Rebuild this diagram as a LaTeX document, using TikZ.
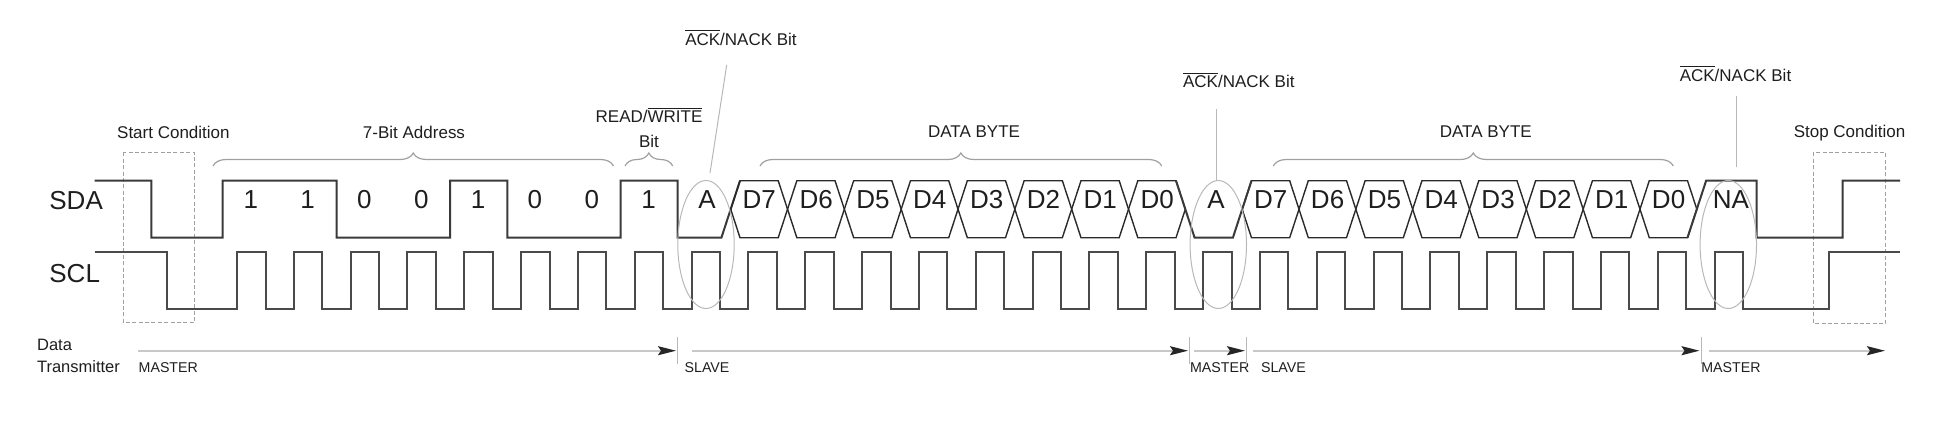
\documentclass[tikz,border=0pt]{standalone}
\usepackage{fontspec}
\setmainfont{Liberation Sans}
\usetikzlibrary{decorations.pathreplacing,arrows.meta,shapes.geometric}
\definecolor{sigc}{HTML}{3A3A3A}
\definecolor{sclc}{HTML}{4A4A4A}
\definecolor{hexc}{HTML}{2A2A2A}
\definecolor{softc}{HTML}{B8B8B8}
\definecolor{bracec}{HTML}{A0A0A0}
\definecolor{arrc}{HTML}{C8C8C8}
\definecolor{txtc}{HTML}{1E1E1E}
\newcommand{\ovl}[1]{$\overline{\mbox{#1}}$}
\tikzset{
  sig/.style={draw=sigc, line width=1pt, line join=miter},
  sclsig/.style={draw=sclc, line width=1pt, line join=miter},
  hexcell/.style={draw=hexc, line width=0.7pt, line join=miter},
  smalllbl/.style={font=\fontsize{8.5}{10}\selectfont, text=txtc, inner sep=0pt, anchor=base},
  biglbl/.style={font=\fontsize{13}{15}\selectfont, text=txtc, inner sep=0pt, anchor=base},
  rowlbl/.style={font=\fontsize{8.25}{10}\selectfont, text=txtc, inner sep=0pt, anchor=base west},
  botlbl/.style={font=\fontsize{7.1}{9}\selectfont, text=txtc, inner sep=0pt, anchor=base west},
  condbox/.style={draw=bracec, line width=0.5pt, dash pattern=on 2pt off 1.2pt},
  ackring/.style={draw=softc, line width=0.5pt},
  pointer/.style={draw=softc, line width=0.5pt},
  bracedec/.style={draw=bracec, line width=0.6pt, decorate, decoration={brace, amplitude=6.5pt}},
  flow/.style={draw=arrc, line width=1pt, -{Stealth[length=9pt, width=4.5pt, inset=1.5pt, color=black!85]}},
  tick/.style={draw=softc, line width=0.4pt}
}
\begin{document}
\begin{tikzpicture}[x=0.5pt,y=-0.5pt]
\useasboundingbox (0,0) rectangle (1944,424);

% ---------- signal labels ----------
\node[biglbl, anchor=base west] (sdalbl) at (49,209.3) {SDA};
\node[biglbl, anchor=base west] (scllbl) at (49,282.3) {SCL};

% ---------- condition boxes ----------
\draw[condbox] (123.3,152.3) rectangle (194.3,322.7);
\draw[condbox] (1813.3,152.3) rectangle (1885.7,323.3);
\node[smalllbl] (startlbl) at (173.4,138.1) {Start Condition};
\node[smalllbl] (stoplbl) at (1849.5,137.8) {Stop Condition};

% ---------- SDA: start, address, R/W, first ACK ----------
\draw[sig] (94.6,180.7) -- (151.3,180.7) -- (151.3,237.7) -- (222.7,237.7) -- (222.7,180.7)
  -- (336.5,180.7) -- (336.5,237.7) -- (450,237.7) -- (450,180.7) -- (507.3,180.7)
  -- (507.3,237.7) -- (620.7,237.7) -- (620.7,180.7) -- (677.6,180.7) -- (677.6,237.7)
  -- (721.4,237.7) -- (740,180.7);
\foreach \i/\b in {0/1,1/1,2/0,3/0,4/1,5/0,6/0,7/1}{
  \node[biglbl] (bit\i) at ({250.8+56.83*\i},208.5) {\b};
}
\node[biglbl] (ack1) at (707,208.5) {A};

% ---------- data hexagons ----------
\foreach \n/\t in {9/D7,10/D6,11/D5,12/D4,13/D3,14/D2,15/D1,16/D0,18/D7,19/D6,20/D5,21/D4,22/D3,23/D2,24/D1,25/D0}{
  \pgfmathsetmacro\c{730.7+56.83*(\n-9)}
  \draw[hexcell] (\c,209.2) -- ({\c+9.3},180.7) -- ({\c+47.5},180.7) -- ({\c+56.83},209.2)
    -- ({\c+47.5},237.7) -- ({\c+9.3},237.7) -- cycle;
  \node[biglbl] (d\n) at ({\c+28.6},208.5) {\t};
}
% second ACK
\draw[sig] (1176,180.7) -- (1194.6,237.7) -- (1232.9,237.7) -- (1251.5,180.7);
\node[biglbl] (ack2) at (1216,208.5) {A};
% NACK and stop
\draw[sig] (1687.5,237.7) -- (1706.1,180.7) -- (1756.7,180.7) -- (1756.7,237.7)
  -- (1842.7,237.7) -- (1842.7,180.7) -- (1900,180.7);
\node[biglbl] (nack) at (1731,208.5) {NA};

% ---------- SCL ----------
\draw[sclsig] (94.6,252.3) -- (166.7,252.3) -- (166.7,309)
  foreach \k in {0,...,26}{ -- ({237+56.83*\k},309) -- ({237+56.83*\k},252.3)
     -- ({265.5+56.83*\k},252.3) -- ({265.5+56.83*\k},309) }
  -- (1829.3,309) -- (1829.3,252.3) -- (1900,252.3);

% ---------- ACK rings and pointers ----------
\node[ackring, ellipse, minimum width=28.2pt, minimum height=64pt, inner sep=0pt] (ring1) at (706,244.5) {};
\node[ackring, ellipse, minimum width=28.2pt, minimum height=64pt, inner sep=0pt] (ring2) at (1218.3,244.5) {};
\node[ackring, ellipse, minimum width=28.2pt, minimum height=64pt, inner sep=0pt] (ring3) at (1728.3,244.5) {};
\node[smalllbl] (acklbl1) at (741,45.4) {\ovl{ACK}/NACK Bit};
\node[smalllbl] (acklbl2) at (1238.8,87.8) {\ovl{ACK}/NACK Bit};
\node[smalllbl] (acklbl3) at (1735.5,81.1) {\ovl{ACK}/NACK Bit};
\coordinate (p1a) at (726.7,65);   \coordinate (p1b) at (710,173);
\coordinate (p2a) at (1216,109.3); \coordinate (p2b) at (1216,180);
\coordinate (p3a) at (1736.7,95.7);\coordinate (p3b) at (1736.7,166.7);
\draw[pointer] (p1a) -- (p1b);
\draw[pointer] (p2a) -- (p2b);
\draw[pointer] (p3a) -- (p3b);

% ---------- braces and group labels ----------
\draw[bracedec] (213,166) -- (613.5,166);
\draw[bracedec] (625,166) -- (672.7,166);
\draw[bracedec] (760,166) -- (1161.7,166);
\draw[bracedec] (1273.3,166) -- (1673.3,166);
\node[smalllbl] (addrlbl) at (414,138.1) {7-Bit Address};
\node[smalllbl] (rwlbl) at (649,122.8) {READ/\ovl{WRITE}};
\node[smalllbl] (rwbit) at (649,147.8) {Bit};
\node[smalllbl] (byte1) at (974,137.8) {DATA BYTE};
\node[smalllbl] (byte2) at (1485.8,137.8) {DATA BYTE};

% ---------- data transmitter row ----------
\node[rowlbl] (datalbl) at (36.7,350.8) {Data};
\node[rowlbl] (txlbl) at (36.7,372.4) {Transmitter};
\node[botlbl] (m1) at (138.3,372) {MASTER};
\node[botlbl] (s1) at (684.3,372) {SLAVE};
\node[botlbl] (m2) at (1189.7,372) {MASTER};
\node[botlbl] (s2) at (1260.7,372) {SLAVE};
\node[botlbl] (m3) at (1701,372) {MASTER};
\coordinate (a0) at (138.3,350.7);  \coordinate (a1) at (676,350.7);
\coordinate (b0) at (691.7,350.7);  \coordinate (b1) at (1188,350.7);
\coordinate (c0) at (1194,350.7);   \coordinate (c1) at (1245,350.7);
\coordinate (e0) at (1253,350.7);   \coordinate (e1) at (1699.5,350.7);
\coordinate (f0) at (1709,350.7);   \coordinate (f1) at (1885,350.7);
\draw[flow] (a0) -- (a1);
\draw[flow] (b0) -- (b1);
\draw[flow] (c0) -- (c1);
\draw[flow] (e0) -- (e1);
\draw[flow] (f0) -- (f1);
\foreach \x in {677.3,1189.7,1246.7,1701}{
  \draw[tick] (\x,337.3) -- (\x,364.3);
}
\end{tikzpicture}
\end{document}
